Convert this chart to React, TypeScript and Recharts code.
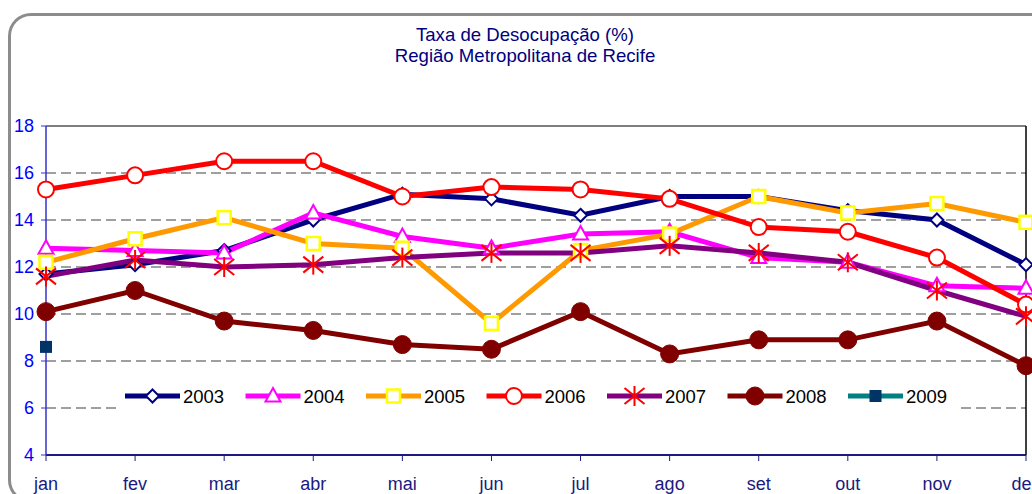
import React from 'react';
import { LineChart, Line, XAxis, YAxis, CartesianGrid, ReferenceLine, Legend } from 'recharts';

const months = ['jan', 'fev', 'mar', 'abr', 'mai', 'jun', 'jul', 'ago', 'set', 'out', 'nov', 'dez'];
const s2003 = [11.7, 12.1, 12.7, 14.0, 15.1, 14.9, 14.2, 15.0, 15.0, 14.4, 14.0, 12.1];
const s2004 = [12.8, 12.7, 12.6, 14.3, 13.3, 12.8, 13.4, 13.5, 12.4, 12.2, 11.2, 11.1];
const s2005 = [12.2, 13.2, 14.1, 13.0, 12.8, 9.6, 12.7, 13.4, 15.0, 14.3, 14.7, 13.9];
const s2006 = [15.3, 15.9, 16.5, 16.5, 15.0, 15.4, 15.3, 14.9, 13.7, 13.5, 12.4, 10.4];
const s2007 = [11.6, 12.3, 12.0, 12.1, 12.4, 12.6, 12.6, 12.9, 12.6, 12.2, 11.0, 9.9];
const s2008 = [10.1, 11.0, 9.7, 9.3, 8.7, 8.5, 10.1, 8.3, 8.9, 8.9, 9.7, 7.8];
const s2009 = [8.6, null, null, null, null, null, null, null, null, null, null, null];
const yTicks = [4, 6, 8, 10, 12, 14, 16, 18];

const series = [
  { key: 'y2003', name: '2003', values: s2003, color: '#000080', marker: 'diamond' },
  { key: 'y2004', name: '2004', values: s2004, color: '#ff00ff', marker: 'triangle' },
  { key: 'y2005', name: '2005', values: s2005, color: '#ff9900', marker: 'square' },
  { key: 'y2006', name: '2006', values: s2006, color: '#ff0000', marker: 'circle' },
  { key: 'y2007', name: '2007', values: s2007, color: '#800080', marker: 'star' },
  { key: 'y2008', name: '2008', values: s2008, color: '#800000', marker: 'dot' },
  { key: 'y2009', name: '2009', values: s2009, color: '#008080', marker: 'block' },
];

const data = months.map((m, i) => {
  const row: any = { month: m };
  series.forEach(s => { row[s.key] = s.values[i]; });
  return row;
});

const FONT = '"Liberation Sans", Arial, sans-serif';

const Marker = ({ kind, cx, cy }: { kind: string; cx: number; cy: number }) => {
  switch (kind) {
    case 'diamond':
      return <path d={`M${cx},${cy - 6.5}L${cx + 6.5},${cy}L${cx},${cy + 6.5}L${cx - 6.5},${cy}Z`} fill="#fff" stroke="#000080" strokeWidth={2} />;
    case 'triangle':
      return <path d={`M${cx},${cy - 8}L${cx + 7.5},${cy + 5.5}L${cx - 7.5},${cy + 5.5}Z`} fill="#fff" stroke="#ff00ff" strokeWidth={2} />;
    case 'square':
      return <rect x={cx - 6.5} y={cy - 6.5} width={13} height={13} fill="#fff" stroke="#ffff00" strokeWidth={2.5} />;
    case 'circle':
      return <circle cx={cx} cy={cy} r={8} fill="#fff" stroke="#ff0000" strokeWidth={2} />;
    case 'star':
      return (
        <g stroke="#ff0000" strokeWidth={2}>
          <line x1={cx} y1={cy - 10} x2={cx} y2={cy + 10} />
          <line x1={cx - 10} y1={cy - 8} x2={cx + 10} y2={cy + 8} />
          <line x1={cx - 10} y1={cy + 8} x2={cx + 10} y2={cy - 8} />
        </g>
      );
    case 'dot':
      return <circle cx={cx} cy={cy} r={9} fill="#800000" stroke="#800000" />;
    case 'block':
      return <rect x={cx - 6} y={cy - 6} width={12} height={12} fill="#003366" />;
    default:
      return null;
  }
};

const makeDot = (kind: string) => (props: any) => {
  const { cx, cy, index, value } = props;
  if (cx == null || cy == null || value == null) return <g key={`${kind}-${index}`} />;
  return <g key={`${kind}-${index}`}><Marker kind={kind} cx={cx} cy={cy} /></g>;
};

const LegendBox = () => (
  <div style={{ background: '#fff', width: 840, height: 36 }}>
    <svg width={840} height={36} style={{ display: 'block' }}>
      {series.map((s, i) => {
        const x0 = 7 + i * 120.5;
        return (
          <g key={s.key}>
            <line x1={x0} y1={18} x2={x0 + 55} y2={18} stroke={s.color} strokeWidth={5} />
            <Marker kind={s.marker} cx={x0 + 27.5} cy={18} />
            <text x={x0 + 58} y={24.5} fontSize={18.5} fontFamily={FONT} fill="#000">{s.name}</text>
          </g>
        );
      })}
    </svg>
  </div>
);

export default function App() {
  return (
    <div style={{ position: 'absolute', left: 0, top: 0, width: 1032, height: 494, overflow: 'hidden', background: '#fff', fontFamily: FONT }}>
      <div style={{ position: 'absolute', left: 8, top: 13, width: 1040, height: 484, border: '3px solid #8c8c8c', borderRadius: 23 }} />
      <div style={{ position: 'absolute', left: 0, top: 24, width: 1050, textAlign: 'center', color: '#000080', fontSize: 18.6, lineHeight: '21px' }}>
        <div>Taxa de Desocupação (%)</div>
        <div>Região Metropolitana de Recife</div>
      </div>
      <div style={{ position: 'absolute', left: 0, top: 0 }}>
        <LineChart width={1032} height={494} data={data} margin={{ top: 126, right: 6, bottom: 9, left: 0 }}>
          <CartesianGrid vertical={false} horizontalValues={[6, 8, 10, 12, 14, 16]} stroke="#808080" strokeWidth={1.5} strokeDasharray="10 5" />
          <ReferenceLine y={18} stroke="#000" strokeWidth={1} ifOverflow="extendDomain" />
          <ReferenceLine x="dez" stroke="#000" strokeWidth={1.5} />
          <XAxis
            dataKey="month"
            height={30}
            padding={{ left: 0, right: 0 }}
            axisLine={{ stroke: '#1a1a80', strokeWidth: 2 }}
            tickLine={{ stroke: '#1a1a80' }}
            tickSize={6}
            tickMargin={16}
            tick={{ fill: '#1a1a80', fontSize: 18, fontFamily: FONT }}
            interval={0}
          />
          <YAxis
            width={46}
            domain={[4, 18]}
            ticks={yTicks}
            interval={0}
            axisLine={{ stroke: '#3333cc', strokeWidth: 1.5 }}
            tickLine={{ stroke: '#3333cc' }}
            tickSize={5}
            tickMargin={7}
            tick={{ fill: '#0000ff', fontSize: 18, fontFamily: FONT }}
          />
          <Legend
            layout="horizontal"
            verticalAlign="middle"
            align="center"
            content={() => <LegendBox />}
            wrapperStyle={{ position: 'absolute', left: 118, top: 378, width: 840, height: 36 }}
          />
          {series.map(s => (
            <Line
              key={s.key}
              dataKey={s.key}
              name={s.name}
              type="linear"
              stroke={s.color}
              strokeWidth={5}
              dot={makeDot(s.marker)}
              activeDot={false}
              connectNulls={false}
              isAnimationActive={false}
            />
          ))}
        </LineChart>
      </div>
    </div>
  );
}
